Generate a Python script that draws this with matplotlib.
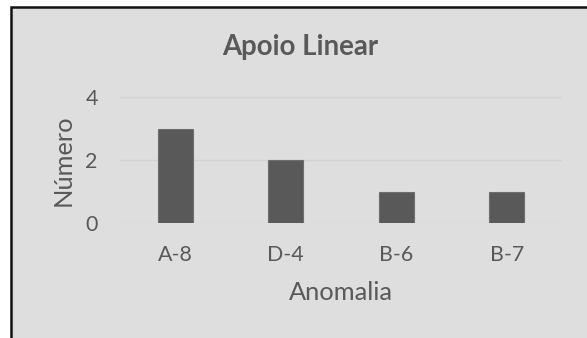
import matplotlib
matplotlib.use("Agg")
import matplotlib.pyplot as plt
from matplotlib.patches import Rectangle

categories = ["A-8", "D-4", "B-6", "B-7"]
counts = [3, 2, 1, 1]
y_ticks = [0, 2, 4]

title = "Apoio Linear"
x_label = "Anomalia"
y_label = "Número"

bg = "#DEDEDE"
bar_color = "#595959"
text_color = "#595959"
grid_color = "#D3D3D3"

plt.rcParams["font.family"] = ["Lato", "DejaVu Sans"]

W, H = 587, 338
fig = plt.figure(figsize=(W / 100, H / 100), dpi=100)
fig.patch.set_facecolor("white")

# chart frame: grey panel with dark border, running past the right/bottom edges
frame_ax = fig.add_axes([0, 0, 1, 1], zorder=0)
frame_ax.set_axis_off()
frame_ax.set_xlim(0, W)
frame_ax.set_ylim(H, 0)
frame_ax.add_patch(Rectangle((11, 6.5), W + 20, H + 20, facecolor=bg,
                             edgecolor="#111111", linewidth=1.8))

left, right = 120 / W, 562 / W
top, bottom = 1 - 97 / H, 1 - 223 / H
ax = fig.add_axes([left, bottom, right - left, top - bottom], zorder=1)
ax.set_facecolor("none")

x = range(len(categories))
ax.bar(x, counts, width=0.32, color=bar_color, edgecolor="#6E6E6E",
       linewidth=0.8, zorder=3)

ax.set_xlim(-0.5, len(categories) - 0.5)
ax.set_ylim(0, 4)
ax.set_yticks(y_ticks)
ax.set_xticks(list(x))
ax.set_xticklabels(categories)

ax.grid(axis="y", color=grid_color, linewidth=1.0, zorder=0)
for s in ax.spines.values():
    s.set_visible(False)
ax.tick_params(axis="both", length=0, labelsize=15.4, colors=text_color)
ax.tick_params(axis="x", pad=16)
ax.tick_params(axis="y", pad=16)

ax.set_xlabel(x_label, fontsize=18.3, color=text_color, labelpad=11)
ax.set_ylabel(y_label, fontsize=18.3, color=text_color, labelpad=8)

fig.text(300 / W, 1 - 47 / H, title, ha="center", va="center",
         fontsize=19.9, fontweight="bold", color=text_color)

fig.savefig("out.png", dpi=100, facecolor=fig.get_facecolor())
